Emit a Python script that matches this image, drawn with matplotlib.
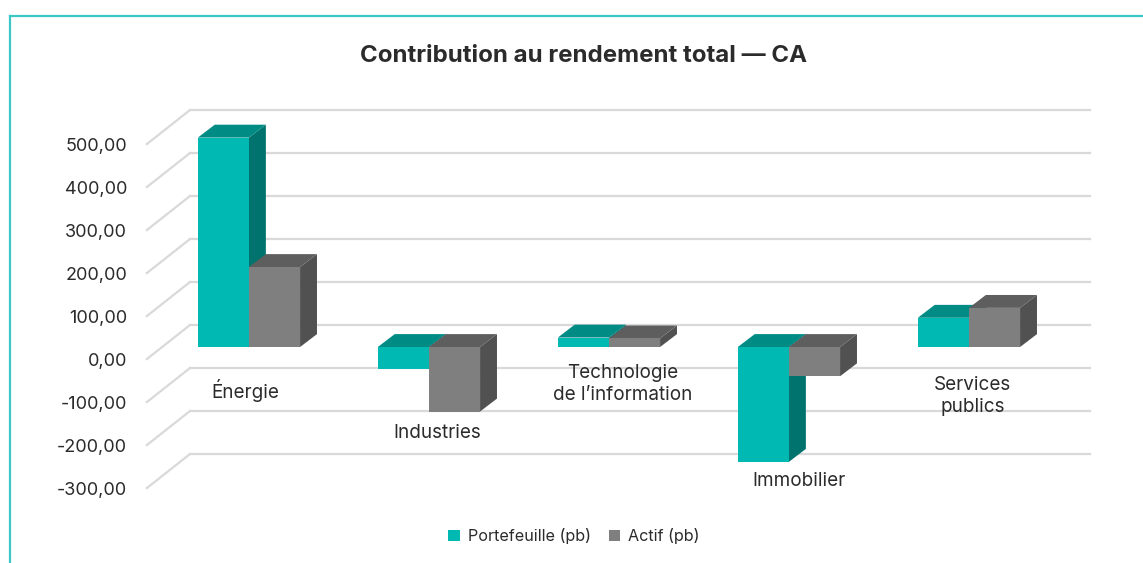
import matplotlib.pyplot as plt
from matplotlib.patches import Polygon, Patch
from matplotlib.lines import Line2D

plt.rcParams['font.family'] = ['Inter', 'DejaVu Sans']

# Data
categories = ['Énergie', 'Industries', 'Technologie\nde l\u2019information', 'Immobilier', 'Services\npublics']
portefeuille = [487, -50, 22, -267, 68]
actif = [186, -150, 20, -68, 91]
tick_values = [500, 400, 300, 200, 100, 0, -100, -200, -300]
tick_labels = ['500,00', '400,00', '300,00', '200,00', '100,00', '0,00', '-100,00', '-200,00', '-300,00']
series_names = ['Portefeuille (pb)', 'Actif (pb)']

# Style
teal = ['#00B9B2', '#008B85', '#00736F']   # front, top, side
grey = ['#7F7F7F', '#5E5E5E', '#515151']
grid_col = '#D9D9D9'
txt_col = '#2B2B2B'

# 3D fake depth (data units)
dx, dy = 0.094, 30
bar_w = 0.284
back_shift = 51      # back wall vs bar plane
front_shift = -28    # front edge vs bar plane

label_dx = [-0.02, 0.044, 0.078, 0.056, 0.022]
label_y = [-100, -199, -86, -312, -114]

fig = plt.figure(figsize=(11.43, 5.63), dpi=100)
ax = fig.add_axes([0, 0, 1, 1])
ax.set_xlim(-1.383, 4.967)
ax.set_ylim(-502.3, 807)
ax.axis('off')

# back wall grid + floor diagonals
for v, lab in zip(tick_values, tick_labels):
    ax.plot([-0.328, 4.672], [v + back_shift] * 2, color=grid_col, lw=1.6, zorder=1)
    ax.plot([-0.567, -0.328], [v + front_shift, v + back_shift], color=grid_col, lw=1.6, zorder=1)
    ax.text(-0.678, v + front_shift - 6, lab, ha='right', va='center', fontsize=13, color=txt_col)


def draw_bar(x0, val, cols, z):
    x1 = x0 + bar_w
    top = max(val, 0)
    bot = min(val, 0)
    side = Polygon([(x1, bot), (x1, top), (x1 + dx, top + dy), (x1 + dx, bot + dy)],
                   closed=True, fc=cols[2], ec='none', zorder=z)
    topf = Polygon([(x0, top), (x0 + dx, top + dy), (x1 + dx, top + dy), (x1, top)],
                   closed=True, fc=cols[1], ec='none', zorder=z)
    ax.add_patch(side)
    ax.add_patch(topf)
    ax.bar(x0, val, width=bar_w, align='edge', color=cols[0], zorder=z + 0.5)


for i, (p, a) in enumerate(zip(portefeuille, actif)):
    draw_bar(i - bar_w, p, teal, 2 + i * 2)
    draw_bar(i, a, grey, 3 + i * 2)
    ax.text(i + label_dx[i], label_y[i], categories[i], ha='center', va='center',
            fontsize=13.6, color=txt_col, linespacing=1.25, zorder=20)

fig.text(0.5105, 1 - 56 / 563, 'Contribution au rendement total \u2014 CA', ha='center', va='center',
         fontsize=17.3, fontweight='bold', color=txt_col)

handles = [Patch(fc=teal[0], ec='none'), Patch(fc=grey[0], ec='none')]
fig.legend(handles, series_names, loc='center', bbox_to_anchor=(574 / 1143, 1 - 536 / 563),
           ncol=2, frameon=False, fontsize=11.6, handlelength=0.72, handleheight=0.72,
           handletextpad=0.5, columnspacing=1.1, labelcolor=txt_col)

# teal frame
fig.add_artist(Line2D([9.5 / 1143, 1], [1 - 16 / 563] * 2, color='#3DC7C7', lw=1.6, transform=fig.transFigure))
fig.add_artist(Line2D([9.5 / 1143] * 2, [0, 1 - 16 / 563], color='#3DC7C7', lw=1.6, transform=fig.transFigure))

fig.savefig('out.png', dpi=100)
